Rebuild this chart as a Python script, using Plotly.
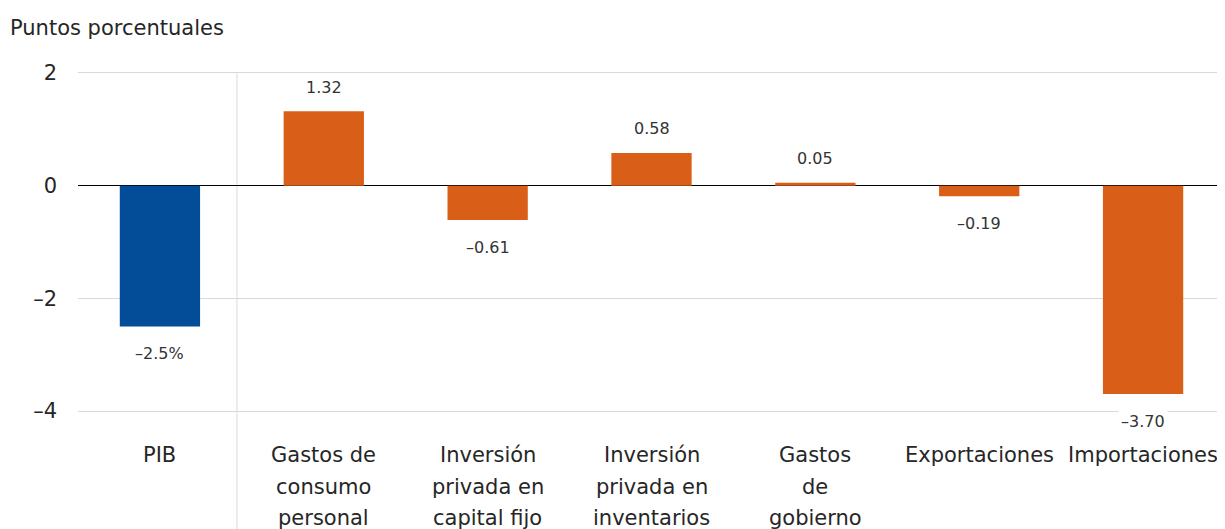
import plotly.graph_objects as go

categories = ["PIB", "Gastos de consumo personal", "Inversión privada en capital fijo",
              "Inversión privada en inventarios", "Gastos de gobierno",
              "Exportaciones", "Importaciones"]
category_lines = [["PIB"], ["Gastos de", "consumo", "personal"],
                  ["Inversión", "privada en", "capital fijo"],
                  ["Inversión", "privada en", "inventarios"],
                  ["Gastos", "de", "gobierno"], ["Exportaciones"], ["Importaciones"]]
values = [-2.5, 1.32, -0.61, 0.58, 0.05, -0.19, -3.70]
colors = ["#034C97"] + ["#D95F18"] * 6
tick_vals = [-4, -2, 0, 2]
tick_text = ["–4", "–2", "0", "2"]

font_family = "DejaVu Sans, sans-serif"
text_color = "#262626"

W, H = 1217, 521
ML, MT, MB = 70, 62, 115
Y_RANGE = [-4.053, 2.053]

fig = go.Figure()
fig.add_trace(go.Bar(x=categories, y=values, marker=dict(color=colors, line=dict(width=0)),
                     width=0.49, hoverinfo="skip"))

annotations = []
for i, (c, v) in enumerate(zip(categories, values)):
    if i == 0:
        txt = f"{v:.1f}%".replace("-", "–")
    else:
        txt = f"{v:.2f}".replace("-", "–")
    annotations.append(dict(x=c, y=v, text=txt, showarrow=False, xref="x", yref="y",
                            yanchor="middle", yshift=24 if v >= 0 else -27,
                            font=dict(size=16, color="#333333", family=font_family),
                            bgcolor="white", borderpad=2))

for c, lines in zip(categories, category_lines):
    for k, line in enumerate(lines):
        annotations.append(dict(x=c, y=0, xref="x", yref="paper", text=line, showarrow=False,
                                yanchor="middle", xanchor="center", yshift=-(41 + 31.5 * k),
                                font=dict(size=21, color=text_color, family=font_family)))

plot_h = H - MT - MB
plot_w = W - ML
annotations.append(dict(x=(0 - ML) / plot_w, y=(H - MB - 20) / plot_h, xref="paper", yref="paper",
                        text="Puntos porcentuales", showarrow=False, xanchor="left",
                        yanchor="middle",
                        font=dict(size=21, color=text_color, family=font_family)))

fig.update_layout(
    width=W, height=H,
    margin=dict(l=ML, r=0, t=MT, b=MB, autoexpand=False),
    plot_bgcolor="white", paper_bgcolor="white",
    showlegend=False,
    font=dict(family=font_family, color=text_color),
    xaxis=dict(showticklabels=False, showgrid=False, showline=False, ticks="",
               automargin=False, fixedrange=True),
    yaxis=dict(range=Y_RANGE, tickvals=tick_vals, ticktext=tick_text,
               tickfont=dict(size=21, color=text_color, family=font_family),
               showgrid=True, gridcolor="#D9D9D9",
               gridwidth=1, zeroline=True, zerolinecolor="#000000", zerolinewidth=1.2,
               showline=False, ticks="", ticklabelstandoff=20, automargin=False),
    annotations=annotations,
)

top_frac = (max(tick_vals) - Y_RANGE[0]) / (Y_RANGE[1] - Y_RANGE[0])
fig.add_shape(type="line", xref="x", yref="paper", x0=0.47, x1=0.47, y0=-0.5, y1=top_frac,
              line=dict(color="#D9D9D9", width=1), layer="below")

fig.write_html("out.html")
